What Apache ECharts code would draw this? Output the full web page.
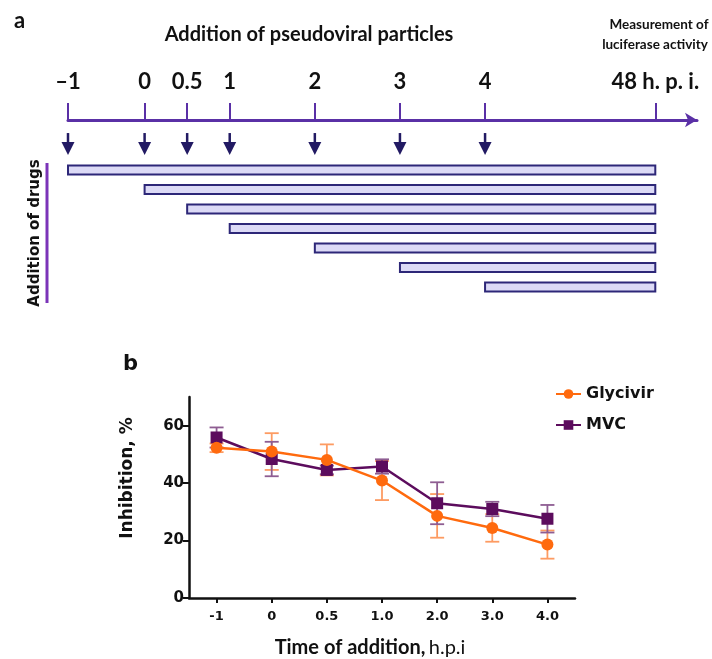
<!DOCTYPE html>
<html>
<head>
<meta charset="utf-8">
<script src="https://cdn.jsdelivr.net/npm/echarts@6/dist/echarts.min.js"></script>
<style>
  html, body { margin: 0; padding: 0; background: #fff; }
  #chart { width: 712px; height: 659px; }
</style>
</head>
<body>
<div id="chart"></div>
<script>
// ---------- Panel a (schematic) data ----------
const schemeTimes  = [-1, 0, 0.5, 1, 2, 3, 4, 48];
const schemeLabels = ['\u20131', '0', '0.5', '1', '2', '3', '4', '48 h. p. i.'];
const arrowTimes   = [-1, 0, 0.5, 1, 2, 3, 4];
const drugStarts   = [-1, 0, 0.5, 1, 2, 3, 4];
const drugEnd      = 48;

// ---------- Panel b (line chart) data ----------
const timeLabels   = ['-1', '0', '0.5', '1.0', '2.0', '3.0', '4.0'];
const glycivir     = [52.3, 51.0, 48.1, 40.9, 28.6, 24.4, 18.6];
const glycivirErr  = [1.5, 6.4, 5.4, 6.8, 7.6, 4.8, 4.9];
const mvc          = [55.9, 48.4, 44.6, 45.8, 33.0, 31.0, 27.6];
const mvcErr       = [3.5, 6.0, 1.5, 2.5, 7.3, 2.5, 4.8];
const yTicks       = [0, 20, 40, 60];

// schematic time axis is not to scale (broken): map time to axis position
function axisPos(t) { return t === 48 ? 6 : (t < 0 ? t * 0.9 : t); }
const schemePos = schemeTimes.map(axisPos);

const ORANGE = '#ff6a0e', PURPLE = '#5c0c5d';
const ORANGE_ERR = '#fd9b62', PURPLE_ERR = '#8e5d92';
const AXIS_PURPLE = '#5a30a6', NAVY = '#221a63';

const chart = echarts.init(document.getElementById('chart'), null, { renderer: 'canvas' });

function errorBarItem(color) {
  return function (params, api) {
    const x = api.value(0), v = api.value(1), e = api.value(2);
    const top = api.coord([x, v + e]);
    const bot = api.coord([x, v - e]);
    const hw = 7;
    const style = { stroke: color, lineWidth: 1.8 };
    return {
      type: 'group',
      children: [
        { type: 'line', shape: { x1: top[0], y1: top[1], x2: bot[0], y2: bot[1] }, style },
        { type: 'line', shape: { x1: top[0] - hw, y1: top[1], x2: top[0] + hw, y2: top[1] }, style },
        { type: 'line', shape: { x1: bot[0] - hw, y1: bot[1], x2: bot[0] + hw, y2: bot[1] }, style }
      ]
    };
  };
}

const option = {
  backgroundColor: '#ffffff',
  animation: false,
  grid: [
    { left: 68, top: 120, width: 629, height: 180, containLabel: false, outerBoundsMode: 'none' },
    { left: 189, top: 397, width: 386, height: 201, containLabel: false, outerBoundsMode: 'none' }
  ],
  xAxis: [
    {
      gridIndex: 0, type: 'value', position: 'top',
      min: -0.9, max: 6.49,
      axisLine: { show: true, onZero: false, symbol: ['none', 'arrow'], symbolSize: [11, 12],
                  lineStyle: { color: AXIS_PURPLE, width: 3 } },
      axisTick: { show: true, inside: false, length: 17, customValues: schemePos,
                  lineStyle: { color: AXIS_PURPLE, width: 2 } },
      axisLabel: {
        show: true, customValues: schemePos, margin: 27,
        fontFamily: 'Lato', fontWeight: 'bold', fontSize: 22, color: '#111',
        formatter: function (v) {
          const i = schemePos.findIndex(p => Math.abs(p - v) < 1e-6);
          return i >= 0 ? schemeLabels[i] : '';
        }
      },
      splitLine: { show: false }
    },
    {
      gridIndex: 1, type: 'category', data: timeLabels, boundaryGap: true,
      axisLine: { show: true, lineStyle: { color: '#111', width: 2.5 } },
      axisTick: { show: true, alignWithLabel: true, length: 5, lineStyle: { color: '#111', width: 2 } },
      axisLabel: { margin: 12, fontFamily: 'DejaVu Sans', fontWeight: 'bold', fontSize: 13, color: '#111' },
      name: '{b|Time of addition,} {n|h.p.i}',
      nameLocation: 'middle', nameGap: 40,
      nameTextStyle: {
        padding: [0, 24, 0, 0],
        rich: {
          b: { fontFamily: 'Lato', fontWeight: 'bold', fontSize: 20, color: '#111' },
          n: { fontFamily: 'Lato', fontWeight: 'normal', fontSize: 20, color: '#111' }
        }
      }
    }
  ],
  yAxis: [
    {
      gridIndex: 0, type: 'value', inverse: true, min: -2.564, max: 6.667,
      show: false
    },
    {
      gridIndex: 1, type: 'value', min: 0, max: 70, interval: 10,
      axisLine: { show: true, lineStyle: { color: '#111', width: 2.5 } },
      axisTick: { show: true, length: 6, customValues: yTicks, lineStyle: { color: '#111', width: 2 } },
      axisLabel: { show: true, customValues: yTicks, margin: 5,
                   fontFamily: 'DejaVu Sans', fontWeight: 'bold', fontSize: 15, color: '#111' },
      splitLine: { show: false }
    }
  ],
  legend: {
    data: ['Glycivir', 'MVC'],
    orient: 'vertical', left: 550, top: 381,
    itemWidth: 25, itemHeight: 12, itemGap: 15,
    textStyle: { fontFamily: 'DejaVu Sans', fontWeight: 'bold', fontSize: 16, color: '#111' }
  },
  series: [
    // schematic: down arrows
    {
      type: 'custom', xAxisIndex: 0, yAxisIndex: 0, silent: true,
      data: arrowTimes.map(t => [axisPos(t), -1.28]),
      renderItem: function (params, api) {
        const p = api.coord([api.value(0), api.value(1)]);
        return {
          type: 'group',
          children: [
            { type: 'line', shape: { x1: p[0], y1: p[1] - 12, x2: p[0], y2: p[1] },
              style: { stroke: NAVY, lineWidth: 2.5 } },
            { type: 'polygon', shape: { points: [[p[0] - 6.5, p[1] - 3], [p[0] + 6.5, p[1] - 3], [p[0], p[1] + 10]] },
              style: { fill: NAVY } }
          ]
        };
      }
    },
    // schematic: drug exposure bars
    {
      type: 'custom', xAxisIndex: 0, yAxisIndex: 0, silent: true,
      data: drugStarts.map((s, i) => [axisPos(s), axisPos(drugEnd), i]),
      renderItem: function (params, api) {
        const a = api.coord([api.value(0), api.value(2)]);
        const b = api.coord([api.value(1), api.value(2)]);
        return {
          type: 'rect',
          shape: { x: a[0], y: a[1] - 4.5, width: b[0] - a[0], height: 9 },
          style: { fill: '#dcdaf6', stroke: '#2d2778', lineWidth: 2 }
        };
      }
    },
    // error bars
    {
      type: 'custom', xAxisIndex: 1, yAxisIndex: 1, silent: true, z: 2,
      data: glycivir.map((v, i) => [i, v, glycivirErr[i]]),
      renderItem: errorBarItem(ORANGE_ERR)
    },
    {
      type: 'custom', xAxisIndex: 1, yAxisIndex: 1, silent: true, z: 2,
      data: mvc.map((v, i) => [i, v, mvcErr[i]]),
      renderItem: errorBarItem(PURPLE_ERR)
    },
    {
      name: 'MVC', type: 'line', xAxisIndex: 1, yAxisIndex: 1, z: 3,
      data: mvc, symbol: 'rect', symbolSize: 12,
      itemStyle: { color: PURPLE }, lineStyle: { color: PURPLE, width: 2.5 }
    },
    {
      name: 'Glycivir', type: 'line', xAxisIndex: 1, yAxisIndex: 1, z: 4,
      data: glycivir, symbol: 'circle', symbolSize: 12,
      itemStyle: { color: ORANGE }, lineStyle: { color: ORANGE, width: 2.5 }
    }
  ],
  graphic: [
    { type: 'text', left: 14, top: 10,
      style: { text: 'a', fontFamily: 'Lato', fontWeight: 'bold', fontSize: 22, fill: '#111' } },
    { type: 'text', x: 309, y: 35,
      style: { text: 'Addition of pseudoviral particles', align: 'center', verticalAlign: 'middle',
               fontFamily: 'Lato', fontWeight: 'bold', fontSize: 20, fill: '#111' } },
    { type: 'text', x: 659, y: 25,
      style: { text: 'Measurement of', align: 'center', verticalAlign: 'middle',
               fontFamily: 'Lato', fontWeight: 'bold', fontSize: 13.5, fill: '#111' } },
    { type: 'text', x: 655, y: 45,
      style: { text: 'luciferase activity', align: 'center', verticalAlign: 'middle',
               fontFamily: 'Lato', fontWeight: 'bold', fontSize: 13.5, fill: '#111' } },
    { type: 'rect', shape: { x: 45.5, y: 163, width: 3, height: 140 }, style: { fill: '#7b34b8' } },
    { type: 'text', x: 35, y: 233, rotation: Math.PI / 2,
      style: { text: 'Addition of drugs', align: 'center', verticalAlign: 'middle',
               fontFamily: 'DejaVu Sans', fontWeight: 'bold', fontSize: 15, fill: '#111' } },
    { type: 'text', left: 123, top: 354,
      style: { text: 'b', fontFamily: 'DejaVu Sans', fontWeight: 'bold', fontSize: 21, fill: '#111' } },
    { type: 'text', x: 128, y: 478, rotation: Math.PI / 2,
      style: { text: 'Inhibition, %', align: 'center', verticalAlign: 'middle',
               fontFamily: 'DejaVu Sans', fontWeight: 'bold', fontSize: 17, fill: '#111' } }
  ]
};

chart.setOption(option);
</script>
</body>
</html>
